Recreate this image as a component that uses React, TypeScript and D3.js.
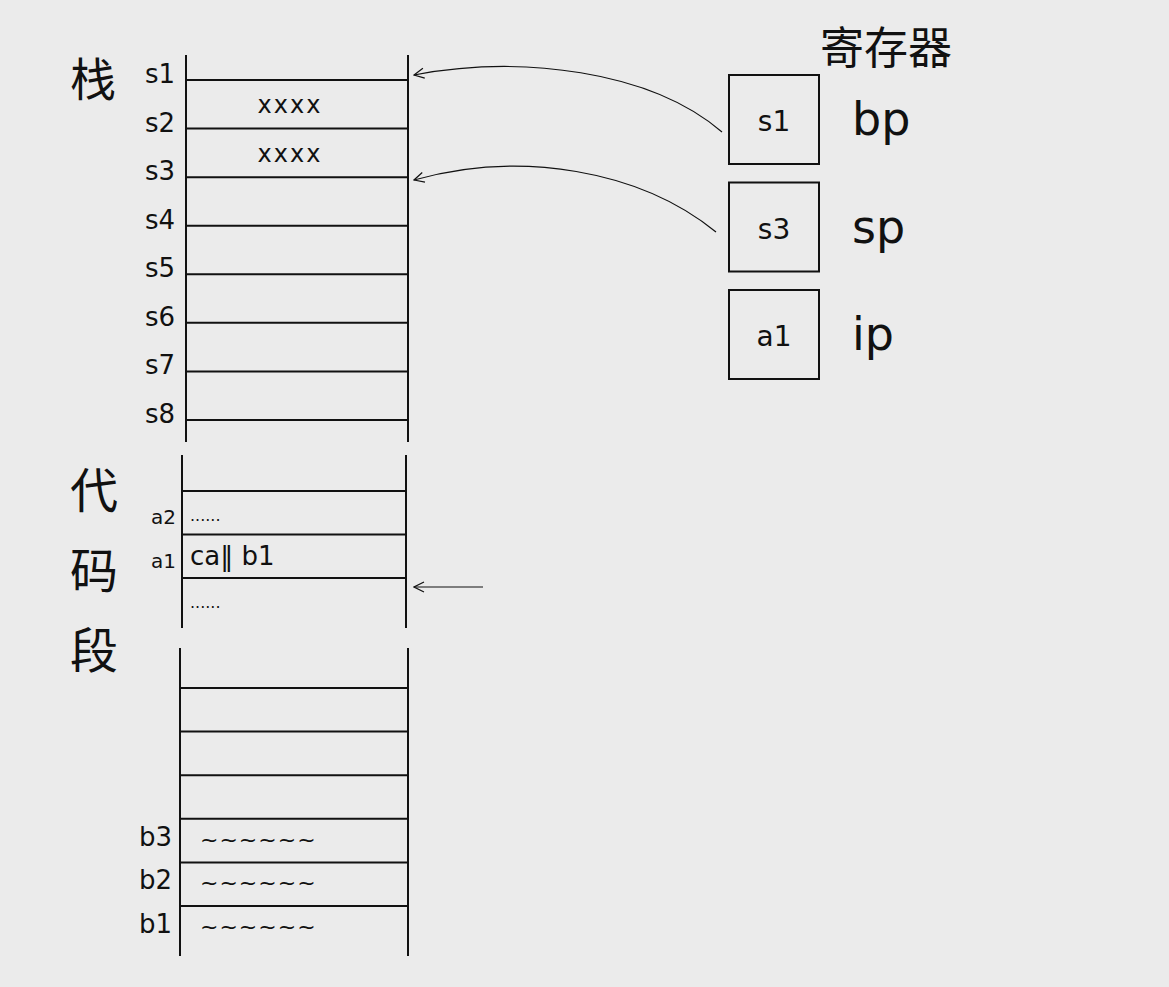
import * as d3 from "d3";

const stackLabels = ["s1", "s2", "s3", "s4", "s5", "s6", "s7", "s8"];
const stackContents = ["xxxx", "xxxx", "", "", "", "", "", ""];
const codeLabels = ["a2", "a1", ""];
const codeContents = ["......", "ca‖ b1", "......"];
const bottomLabels = ["", "", "", "b3", "b2", "b1"];
const bottomContents = ["", "", "", "~~~~~~", "~~~~~~", "~~~~~~"];
const regValues = ["s1", "s3", "a1"];
const regNames = ["bp", "sp", "ip"];

const W = 1169;
const H = 987;
const font = "'DejaVu Sans', sans-serif";
const cjk = "'Noto Sans CJK SC', sans-serif";
const ink = "#111";

export default function App() {
  const yStack = d3.scaleLinear().domain([0, 7]).range([80, 420]);
  const yCode = d3.scaleLinear().domain([0, 2]).range([491, 578]);
  const yBottom = d3.scaleLinear().domain([0, 5]).range([688, 906]);
  const yReg = d3.scaleLinear().domain([0, 2]).range([75, 290]);

  const arrow1 = d3.path();
  arrow1.moveTo(722, 132);
  arrow1.bezierCurveTo(650, 70, 520, 55, 414, 75);
  const arrow2 = d3.path();
  arrow2.moveTo(716, 232);
  arrow2.bezierCurveTo(640, 170, 520, 150, 414, 180);

  return (
    <svg
      width={W}
      height={H}
      style={{ position: "absolute", left: 0, top: 0 }}
      fontFamily={font}
    >
      <defs>
        <marker id="ah" viewBox="0 0 12 12" refX="11" refY="6" markerWidth="12" markerHeight="12" orient="auto" markerUnits="userSpaceOnUse">
          <path d="M1,1 L11,6 L1,11" fill="none" stroke={ink} strokeWidth={1.2} />
        </marker>
      </defs>
      <rect width={W} height={H} fill="#ebebeb" />

      {/* stack */}
      <line x1={186} x2={186} y1={55} y2={442} stroke={ink} strokeWidth={2} />
      <line x1={408} x2={408} y1={55} y2={442} stroke={ink} strokeWidth={2} />
      {stackLabels.map((s, i) => (
        <g key={s}>
          <line x1={186} x2={408} y1={yStack(i)} y2={yStack(i)} stroke={ink} strokeWidth={2} />
          <text x={175} y={yStack(i) + 3} textAnchor="end" fontSize={26} fill={ink}>{s}</text>
          {stackContents[i] && (
            <text x={290} y={yStack(i) + 33} textAnchor="middle" fontSize={24} fill={ink} letterSpacing={2}>{stackContents[i]}</text>
          )}
        </g>
      ))}
      <text x={70} y={96} fontSize={46} fontFamily={cjk} fill={ink}>栈</text>

      {/* code */}
      <line x1={182} x2={182} y1={455} y2={628} stroke={ink} strokeWidth={2} />
      <line x1={406} x2={406} y1={455} y2={628} stroke={ink} strokeWidth={2} />
      {codeLabels.map((s, i) => (
        <g key={i}>
          <line x1={182} x2={406} y1={yCode(i)} y2={yCode(i)} stroke={ink} strokeWidth={2} />
          <text x={176} y={yCode(i) + 33} textAnchor="end" fontSize={20} fill={ink}>{s}</text>
          <text x={190} y={yCode(i) + 30} fontSize={i === 1 ? 26 : 16} fill={ink}>{codeContents[i]}</text>
        </g>
      ))}
      <line x1={483} x2={414} y1={587} y2={587} stroke={ink} strokeWidth={1.2} markerEnd="url(#ah)" />
      {["代", "码", "段"].map((c, i) => (
        <text key={c} x={70} y={508 + i * 80} fontSize={48} fontFamily={cjk} fill={ink}>{c}</text>
      ))}

      {/* bottom section */}
      <line x1={180} x2={180} y1={648} y2={956} stroke={ink} strokeWidth={2} />
      <line x1={408} x2={408} y1={648} y2={956} stroke={ink} strokeWidth={2} />
      {bottomLabels.map((s, i) => (
        <g key={i}>
          <line x1={180} x2={408} y1={yBottom(i)} y2={yBottom(i)} stroke={ink} strokeWidth={2} />
          <text x={172} y={yBottom(i) + 27} textAnchor="end" fontSize={26} fill={ink}>{s}</text>
          <text x={200} y={yBottom(i) + 28} fontSize={22} fill={ink} letterSpacing={1}>{bottomContents[i]}</text>
        </g>
      ))}

      {/* registers */}
      <text x={820} y={64} fontSize={44} fontFamily={cjk} fill={ink}>寄存器</text>
      {regValues.map((v, i) => (
        <g key={v}>
          <rect x={729} y={yReg(i)} width={90} height={89} fill="none" stroke={ink} strokeWidth={2} />
          <text x={774} y={yReg(i) + 56} textAnchor="middle" fontSize={28} fill={ink}>{v}</text>
          <text x={852} y={yReg(i) + 60} fontSize={46} fill={ink}>{regNames[i]}</text>
        </g>
      ))}
      <path d={arrow1.toString()} fill="none" stroke={ink} strokeWidth={1.2} markerEnd="url(#ah)" />
      <path d={arrow2.toString()} fill="none" stroke={ink} strokeWidth={1.2} markerEnd="url(#ah)" />
    </svg>
  );
}
